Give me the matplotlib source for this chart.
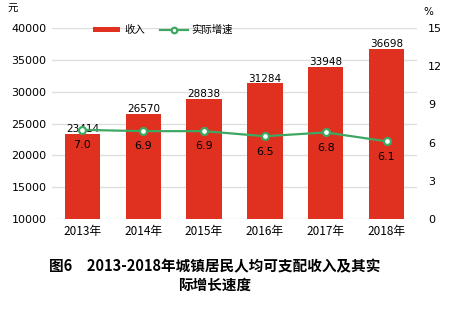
import matplotlib.pyplot as plt
import numpy as np

plt.rcParams['font.family'] = ['Noto Sans CJK SC', 'DejaVu Sans']

years = ['2013年', '2014年', '2015年', '2016年', '2017年', '2018年']
income = [23414, 26570, 28838, 31284, 33948, 36698]
growth = [7.0, 6.9, 6.9, 6.5, 6.8, 6.1]
left_ticks = [10000, 15000, 20000, 25000, 30000, 35000, 40000]
right_ticks = [0, 3, 6, 9, 12, 15]

fig = plt.figure(figsize=(4.5, 3.24), dpi=100)
ax = fig.add_axes([0.1156, 0.324, 0.811, 0.5896])
x = np.arange(len(years))

bars = ax.bar(x, income, width=0.58, color='#e03020', zorder=2, label='收入')
ax.set_ylim(10000, 40000)
ax.set_xlim(-0.5, len(years) - 0.5)
ax.set_yticks(left_ticks)
ax.set_yticklabels([str(t) for t in left_ticks], fontsize=8, family='DejaVu Sans')
ax.set_xticks(x)
ax.set_xticklabels(years, fontsize=8.5)
ax.tick_params(length=0, pad=4)
ax.grid(axis='y', color='#dddddd', lw=0.9, zorder=0)
for s in ax.spines.values():
    s.set_visible(False)
for xi, v in zip(x, income):
    ax.text(xi, v - 60, str(v), ha='center', va='bottom', fontsize=7.5,
            family='DejaVu Sans', zorder=4)

ax2 = ax.twinx()
ax2.plot(x, growth, color='#3ea862', lw=1.6, marker='o', ms=5,
         mfc='white', mec='#3ea862', mew=1.6, zorder=3, label='实际增速')
ax2.set_ylim(0, 15)
ax2.set_yticks(right_ticks)
ax2.set_yticklabels([str(t) for t in right_ticks], fontsize=8, family='DejaVu Sans')
ax2.tick_params(length=0, pad=8)
for s in ax2.spines.values():
    s.set_visible(False)
for xi, g in zip(x, growth):
    ax2.annotate(f'{g:.1f}', (xi, g), xytext=(0, -11), textcoords='offset points',
                 ha='center', va='center', fontsize=8, family='DejaVu Sans')

fig.text(13 / 450, 1 - 9 / 324, '元', fontsize=7.5, ha='center', va='center')
fig.text(428 / 450, 1 - 12 / 324, '%', fontsize=7.5, ha='center', va='center',
         family='DejaVu Sans')

h1, l1 = ax.get_legend_handles_labels()
h2, l2 = ax2.get_legend_handles_labels()
fig.legend(h1 + h2, l1 + l2, loc='center', bbox_to_anchor=(163 / 450, 1 - 30 / 324),
           ncol=2, frameon=False, fontsize=7.5, handlelength=2.6, handleheight=0.4,
           columnspacing=1.5, handletextpad=0.4, markerscale=0.8)

fig.text(215 / 450, 1 - 266 / 324, '图6　2013-2018年城镇居民人均可支配收入及其实',
         fontsize=10.5, fontweight='bold', ha='center', va='center')
fig.text(215 / 450, 1 - 285 / 324, '际增长速度',
         fontsize=10.5, fontweight='bold', ha='center', va='center')

plt.savefig('out.png', dpi=100)
plt.close(fig)
